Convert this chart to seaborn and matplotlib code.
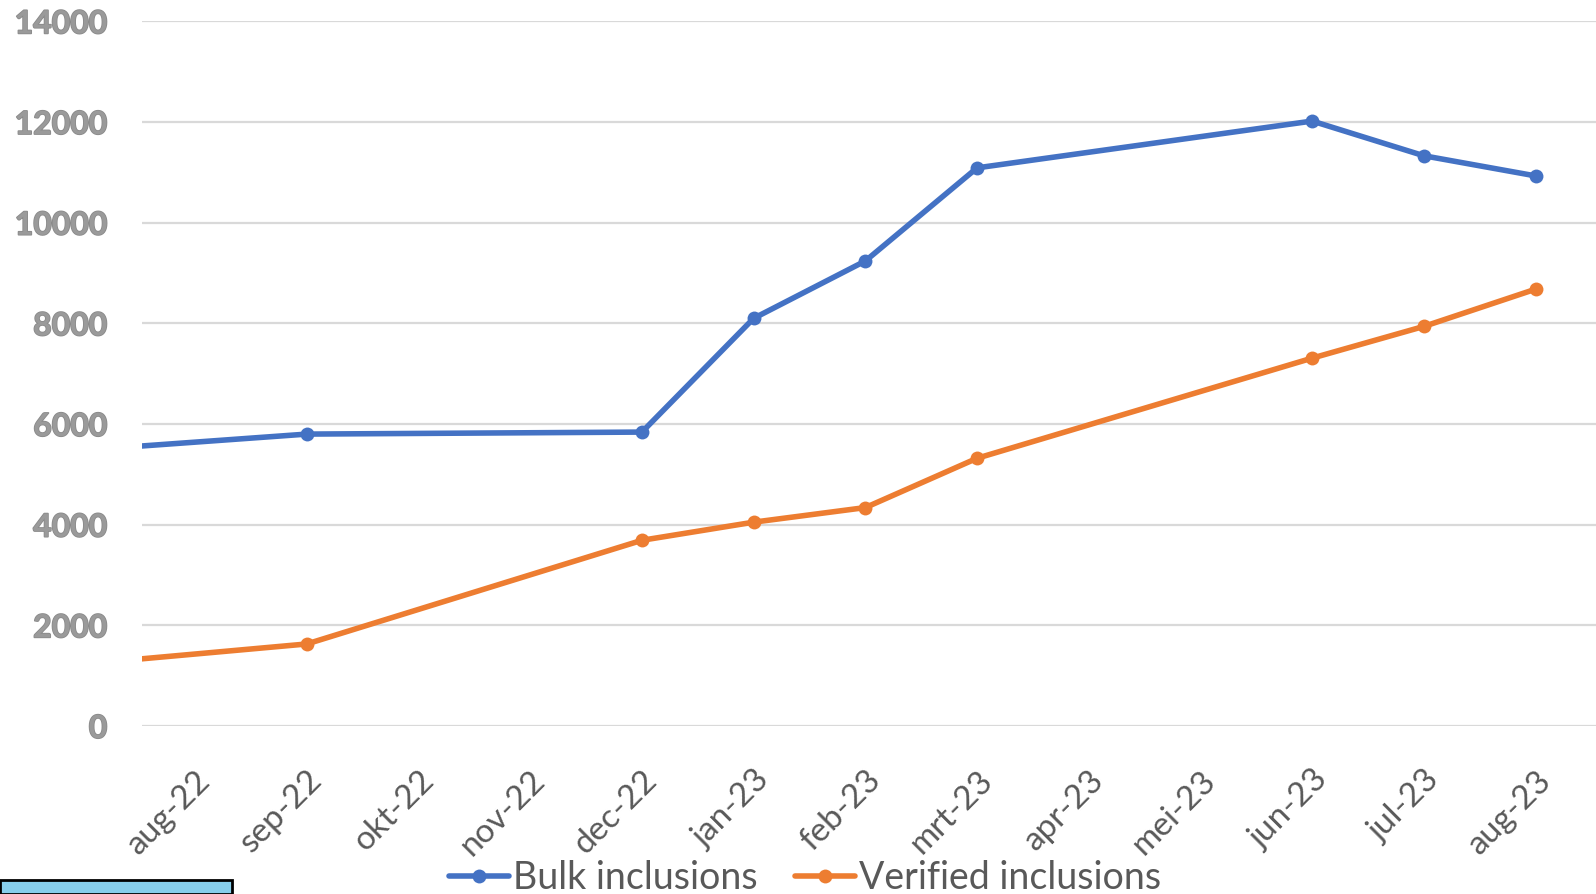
import numpy as np
import pandas as pd
import matplotlib
matplotlib.use("Agg")
import matplotlib.pyplot as plt
import matplotlib.patheffects as pe
from matplotlib.patches import Rectangle
import seaborn as sns

# ---- data ----
month_labels = ["aug-22", "sep-22", "okt-22", "nov-22", "dec-22", "jan-23", "feb-23",
                "mrt-23", "apr-23", "mei-23", "jun-23", "jul-23", "aug-23"]
# data months (jul-22 lies just left of the visible axis)
data_months = ["jul-22", "aug-22", "sep-22", "okt-22", "nov-22", "dec-22", "jan-23", "feb-23",
               "mrt-23", "apr-23", "mei-23", "jun-23", "jul-23", "aug-23"]
bulk = [5480, np.nan, 5800, np.nan, np.nan, 5840, 8100, 9240, 11090, np.nan, np.nan, 12020, 11330, 10930]
verified = [1230, np.nan, 1630, np.nan, np.nan, 3690, 4050, 4340, 5320, np.nan, np.nan, 7310, 7940, 8680]
y_ticks = [0, 2000, 4000, 6000, 8000, 10000, 12000, 14000]
series_names = ["Bulk inclusions", "Verified inclusions"]

x_index = [month_labels.index(m) if m in month_labels else -1 for m in data_months]
df = pd.DataFrame({
    "x": x_index * 2,
    "value": bulk + verified,
    "series": [series_names[0]] * len(bulk) + [series_names[1]] * len(verified),
}).dropna()

sns.set_theme(style="white")
plt.rcParams["font.family"] = ["Lato", "DejaVu Sans"]

W, H = 1596, 894
fig = plt.figure(figsize=(W / 100, H / 100), dpi=100)
ax = fig.add_axes([142 / W, (H - 726) / H, (1596 - 142) / W, (726 - 21.4) / H])

sns.lineplot(data=df, x="x", y="value", hue="series",
             palette=["#4472C4", "#ED7D31"], linewidth=4.0,
             marker="o", markersize=10, markeredgewidth=0, ax=ax, legend=True,
             sort=True)

ax.set_xlim(-0.475, 12.54)
ax.set_ylim(0, 14000)
ax.set_yticks(y_ticks)
ax.set_yticklabels([str(v) for v in y_ticks])
ax.yaxis.grid(True, color="#d9d9d9", linewidth=1.6)
ax.xaxis.grid(False)
for s in ax.spines.values():
    s.set_visible(False)
ax.set_xlabel("")
ax.set_ylabel("")

ax.tick_params(axis="y", length=0, pad=25, labelsize=23, labelcolor="#9a9a9a")
for t in ax.get_yticklabels():
    t.set_fontweight("bold")
    t.set_path_effects([pe.withStroke(linewidth=1.2, foreground="#8a8a8a")])

ax.set_xticks(range(len(month_labels)))
ax.set_xticklabels(month_labels, rotation=45, ha="right", rotation_mode="anchor")
ax.tick_params(axis="x", length=0, pad=28, labelsize=24, labelcolor="#595959")

handles, labels = ax.get_legend_handles_labels()
ax.get_legend().remove()
fig.legend(handles, labels, loc="center", bbox_to_anchor=(805 / W, (H - 878) / H),
           ncol=2, frameon=False, fontsize=27, labelcolor="#595959",
           handlelength=1.6, handletextpad=0.1, columnspacing=1.0)

fig.patches.append(Rectangle((0, 0), 232 / W, 14 / H, transform=fig.transFigure,
                             facecolor="#87CEEB", edgecolor="black", linewidth=2))

fig.savefig("out.png", dpi=100)
